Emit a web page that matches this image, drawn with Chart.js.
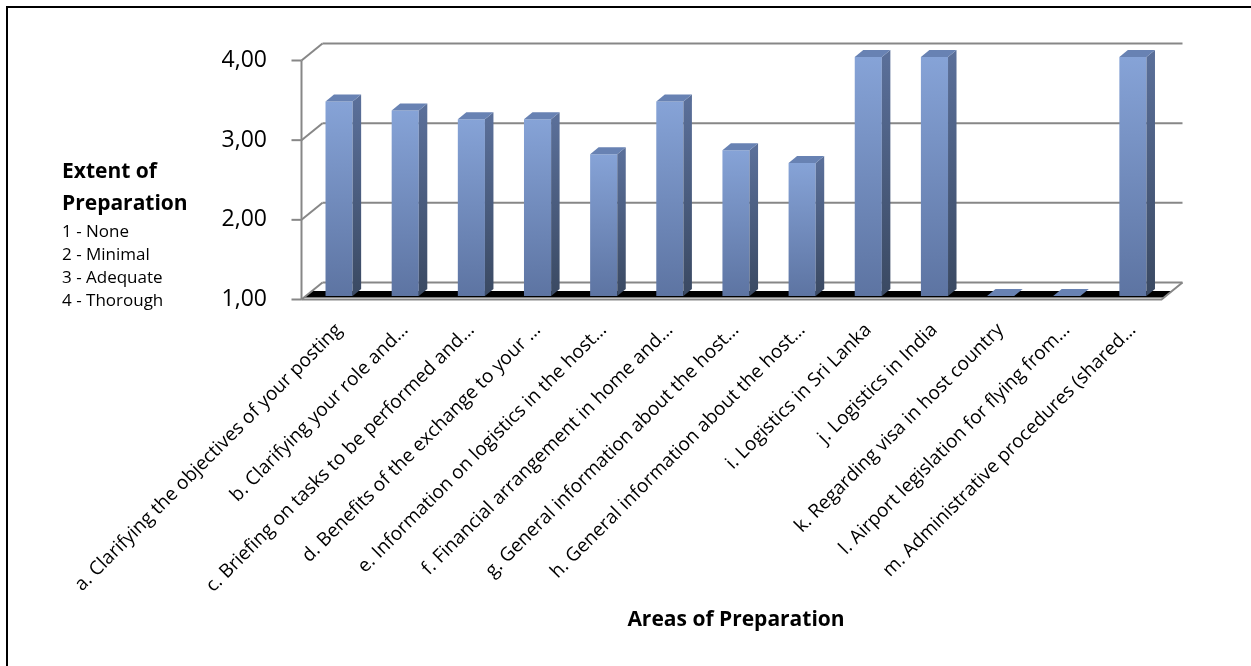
<!DOCTYPE html>
<html>
<head>
<meta charset="utf-8">
<title>Areas of Preparation</title>
<script src="https://cdn.jsdelivr.net/npm/chart.js@4.4.1/dist/chart.umd.min.js"></script>
<style>
    html, body { margin: 0; padding: 0; background: #ffffff; }
    canvas { display: block; }
</style>
</head>
<body>
<canvas id="prepChart" width="1251" height="666"></canvas>
<script>
// Areas of preparation and mean rating (1 = none ... 4 = thorough)
const categories = [
    'a. Clarifying the objectives of your posting',
    'b. Clarifying your role and…',
    'c. Briefing on tasks to be performed and…',
    'd. Benefits of the exchange to your …',
    'e. Information on logistics in the host…',
    'f. Financial arrangement in home and…',
    'g. General information about the host…',
    'h. General information about the host…',
    'i. Logistics in Sri Lanka',
    'j. Logistics in India',
    'k. Regarding visa in host country',
    'l. Airport legislation for flying from…',
    'm. Administrative procedures (shared…'
];
const ratings = [3.44, 3.33, 3.22, 3.22, 2.78, 3.44, 2.83, 2.67, 4.00, 4.00, 1.00, 1.00, 4.00];
const yTickValues = [1, 2, 3, 4];
const scaleNotes = ['1 - None', '2 - Minimal', '3 - Adequate', '4 - Thorough'];

const FONT = "'Open Sans', 'DejaVu Sans', sans-serif";
const GRID = '#878787';

// pseudo-3D offsets, relative to the plane of the bar fronts
const FRONT = { x: -4.5, y: 3.5 };
const BACK = { x: 16.5, y: -13.5 };
const BAR_DEPTH = { x: 8.5, y: -7 };

const colors = {
    frontTop: '#86A3D7',
    frontBottom: '#5D74A2',
    sideTop: '#5A6F99',
    sideBottom: '#3A4962',
    top: '#6882B3'
};

const fmtTick = (v) => v.toFixed(2).replace('.', ',');

const frontGradient = (context) => {
    const chart = context.chart;
    if (!chart.chartArea || context.type !== 'data') {
        return colors.frontTop;
    }
    const y = chart.scales.y;
    const top = y.getPixelForValue(context.raw);
    const base = y.getPixelForValue(y.min);
    if (base - top < 1) {
        return colors.frontTop;
    }
    const g = chart.ctx.createLinearGradient(0, top, 0, base);
    g.addColorStop(0, colors.frontTop);
    g.addColorStop(1, colors.frontBottom);
    return g;
};

// walls, floor and front axis behind the bars
const wallsPlugin = {
    id: 'walls',
    beforeDatasetsDraw(chart) {
        const { ctx, chartArea } = chart;
        const y = chart.scales.y;
        const left = chartArea.left;
        const right = chartArea.right;
        const base = y.getPixelForValue(y.min);

        ctx.save();
        ctx.lineWidth = 2;
        ctx.strokeStyle = GRID;

        // black band on the floor
        const f0 = 0.12, f1 = 0.5;
        const dx = BACK.x - FRONT.x, dy = BACK.y - FRONT.y;
        ctx.fillStyle = '#000000';
        ctx.beginPath();
        ctx.moveTo(left + FRONT.x + dx * f0, base + FRONT.y + dy * f0);
        ctx.lineTo(right + FRONT.x + dx * f0, base + FRONT.y + dy * f0);
        ctx.lineTo(right + FRONT.x + dx * f1, base + FRONT.y + dy * f1);
        ctx.lineTo(left + FRONT.x + dx * f1, base + FRONT.y + dy * f1);
        ctx.closePath();
        ctx.fill();

        // back wall gridlines and side wall diagonals
        yTickValues.forEach((v) => {
            const py = y.getPixelForValue(v);
            ctx.beginPath();
            ctx.moveTo(left + BACK.x, py + BACK.y);
            ctx.lineTo(right + BACK.x, py + BACK.y);
            ctx.stroke();

            ctx.beginPath();
            ctx.moveTo(left + FRONT.x, py + FRONT.y);
            ctx.lineTo(left + BACK.x, py + BACK.y);
            ctx.stroke();

            // tick mark on the front axis
            ctx.beginPath();
            ctx.moveTo(left + FRONT.x - 10, py + FRONT.y);
            ctx.lineTo(left + FRONT.x, py + FRONT.y);
            ctx.stroke();
        });

        // front axis line
        const top = y.getPixelForValue(y.max);
        ctx.beginPath();
        ctx.moveTo(left + FRONT.x, top + FRONT.y);
        ctx.lineTo(left + FRONT.x, base + FRONT.y);
        ctx.stroke();

        // floor front and right edges
        ctx.beginPath();
        ctx.moveTo(left + FRONT.x, base + FRONT.y);
        ctx.lineTo(right + FRONT.x, base + FRONT.y);
        ctx.lineTo(right + BACK.x, base + BACK.y);
        ctx.stroke();
        ctx.restore();
    },

    // side and top faces of each column
    afterDatasetsDraw(chart) {
        const { ctx } = chart;
        const y = chart.scales.y;
        const floor = y.getPixelForValue(y.min);
        const meta = chart.getDatasetMeta(0);
        ctx.save();
        meta.data.forEach((bar) => {
            const p = bar.getProps(['x', 'y', 'base', 'width'], true);
            const l = p.x - p.width / 2;
            const r = p.x + p.width / 2;
            const t = p.y;
            const b = Math.min(p.base, floor);

            if (b - t > 1) {
                const g = ctx.createLinearGradient(0, t, 0, b);
                g.addColorStop(0, colors.sideTop);
                g.addColorStop(1, colors.sideBottom);
                ctx.fillStyle = g;
                ctx.beginPath();
                ctx.moveTo(r, t);
                ctx.lineTo(r + BAR_DEPTH.x, t + BAR_DEPTH.y);
                ctx.lineTo(r + BAR_DEPTH.x, b + BAR_DEPTH.y);
                ctx.lineTo(r, b);
                ctx.closePath();
                ctx.fill();
            }

            ctx.fillStyle = colors.top;
            ctx.beginPath();
            ctx.moveTo(l, t);
            ctx.lineTo(r, t);
            ctx.lineTo(r + BAR_DEPTH.x, t + BAR_DEPTH.y);
            ctx.lineTo(l + BAR_DEPTH.x, t + BAR_DEPTH.y);
            ctx.closePath();
            ctx.fill();
        });
        ctx.restore();
    },

    // axis titles, rating key and frame
    afterDraw(chart) {
        const { ctx } = chart;
        ctx.save();
        ctx.fillStyle = '#000000';
        ctx.textAlign = 'left';
        ctx.textBaseline = 'alphabetic';

        ctx.font = 'bold 21px ' + FONT;
        ctx.fillText('Extent of', 62, 178);
        ctx.fillText('Preparation', 62, 210);

        ctx.font = '17px ' + FONT;
        scaleNotes.forEach((note, i) => {
            ctx.fillText(note, 62, 237 + i * 23);
        });

        ctx.font = 'bold 21px ' + FONT;
        ctx.textAlign = 'center';
        ctx.fillText('Areas of Preparation', 736, 626);

        ctx.lineWidth = 2;
        ctx.strokeStyle = '#000000';
        ctx.strokeRect(7, 7, 1400, 800);
        ctx.restore();
    }
};

const chart = new Chart(document.getElementById('prepChart'), {
    type: 'bar',
    data: {
        labels: categories,
        datasets: [{
            label: 'Extent of Preparation',
            data: ratings,
            base: yTickValues[0],
            backgroundColor: frontGradient,
            borderWidth: 0,
            barPercentage: 0.41,
            categoryPercentage: 1.0
        }]
    },
    options: {
        responsive: false,
        devicePixelRatio: 1,
        animation: false,
        layout: {
            padding: { top: 57, right: 85, bottom: 0, left: 0 }
        },
        plugins: {
            legend: { display: false },
            tooltip: { enabled: false }
        },
        scales: {
            x: {
                grid: { display: false },
                border: { display: false },
                ticks: {
                    autoSkip: false,
                    maxRotation: 45,
                    minRotation: 45,
                    padding: 15,
                    color: '#000000',
                    font: { family: FONT, size: 19 }
                },
                afterFit: (scale) => {
                    scale.height = 370;
                }
            },
            y: {
                min: 1,
                max: 4,
                grid: { display: false },
                border: { display: false },
                afterBuildTicks: (scale) => {
                    scale.ticks = yTickValues.map((v) => ({ value: v }));
                },
                ticks: {
                    padding: 31,
                    labelOffset: 3.5,
                    color: '#000000',
                    font: { family: FONT, size: 23 },
                    callback: (value) => fmtTick(value)
                },
                afterFit: (scale) => {
                    scale.width = 306;
                }
            }
        }
    },
    plugins: [wallsPlugin]
});
</script>
</body>
</html>
